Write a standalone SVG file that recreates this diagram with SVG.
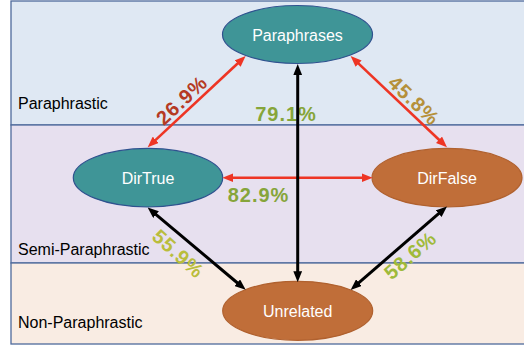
<svg xmlns="http://www.w3.org/2000/svg" width="524" height="345" viewBox="0 0 524 345">
<style>
.band{stroke:#4f6a9c;stroke-width:1.3}
.lbl{font-family:"Liberation Sans",Arial,sans-serif;font-size:16px;fill:#000}
.teal{fill:#3f9597;stroke:#2f528f;stroke-width:1.2}
.orng{fill:#c06e39;stroke:#b0612f;stroke-width:1.2}
.nt{font-family:"Liberation Sans",Arial,sans-serif;font-size:16px;fill:#fff;text-anchor:middle}
.red{stroke:#ee3524;stroke-width:2.6;fill:none}
.blk{stroke:#000;stroke-width:3;fill:none}
.pct{font-family:"Liberation Sans",Arial,sans-serif;font-size:20px;font-weight:bold;text-anchor:middle;letter-spacing:1px}
</style>
<defs>
<marker id="ar" viewBox="0 0 10 8" refX="1" refY="4" markerWidth="11" markerHeight="9" markerUnits="userSpaceOnUse" orient="auto-start-reverse"><path d="M0,0 L10,4 L0,8 z" fill="#ee3524"/></marker>
<marker id="ab" viewBox="0 0 10 8" refX="1" refY="4" markerWidth="11" markerHeight="9" markerUnits="userSpaceOnUse" orient="auto-start-reverse"><path d="M0,0 L10,4 L0,8 z" fill="#000"/></marker>
</defs>
<g id="bands">
<rect class="band" x="11" y="1" width="520" height="124" fill="#dfe8f3"/>
<rect class="band" x="11" y="125" width="520" height="138" fill="#e7e0ef"/>
<rect class="band" x="11" y="263" width="520" height="81" fill="#f9ece3"/>
<text class="lbl" x="18" y="109">Paraphrastic</text>
<text class="lbl" x="18" y="255">Semi-Paraphrastic</text>
<text class="lbl" x="18" y="328">Non-Paraphrastic</text>
</g>
<g id="node-paraphrases"><ellipse class="teal" cx="297.5" cy="34.5" rx="75" ry="29"/><text class="nt" x="297.5" y="41">Paraphrases</text></g>
<g id="node-dirtrue"><ellipse class="teal" cx="148" cy="177.7" rx="74.7" ry="29.3"/><text class="nt" x="148" y="183.5">DirTrue</text></g>
<g id="node-dirfalse"><ellipse class="orng" cx="447" cy="177.7" rx="75" ry="29.3"/><text class="nt" x="447" y="183.5">DirFalse</text></g>
<g id="node-unrelated"><ellipse class="orng" cx="297.7" cy="310.8" rx="75" ry="29.5"/><text class="nt" x="297.7" y="317">Unrelated</text></g>
<g id="labels">
<text class="pct" fill="#b53a24" transform="translate(181.7,100) rotate(-43)" x="0" y="7">26.9%</text>
<text class="pct" fill="#b5903a" transform="translate(414,100.5) rotate(43.5)" x="0" y="7">45.8%</text>
<text class="pct" fill="#86a53a" x="286" y="121">79.1%</text>
<text class="pct" fill="#86a53a" x="258.5" y="201.5">82.9%</text>
<text class="pct" fill="#b9bd3c" transform="translate(178.3,253.7) rotate(42)" x="0" y="7">55.9%</text>
<text class="pct" fill="#9fba3a" transform="translate(410.3,255.3) rotate(-41)" x="0" y="7">58.6%</text>
</g>
<g id="connectors">
<line class="red" x1="154.9" y1="140.6" x2="238.4" y2="62.8" marker-start="url(#ar)" marker-end="url(#ar)"/>
<line class="red" x1="357.8" y1="62.9" x2="439.8" y2="140.5" marker-start="url(#ar)" marker-end="url(#ar)"/>
<line class="red" x1="232.3" y1="177.7" x2="362.7" y2="177.7" marker-start="url(#ar)" marker-end="url(#ar)"/>
<line class="blk" x1="297.7" y1="74" x2="297.7" y2="272.3" marker-start="url(#ab)" marker-end="url(#ab)"/>
<line class="blk" x1="155.2" y1="213.8" x2="238.1" y2="283.5" marker-start="url(#ab)" marker-end="url(#ab)"/>
<line class="blk" x1="439.5" y1="212.9" x2="358.1" y2="283.4" marker-start="url(#ab)" marker-end="url(#ab)"/>
</g>
</svg>
